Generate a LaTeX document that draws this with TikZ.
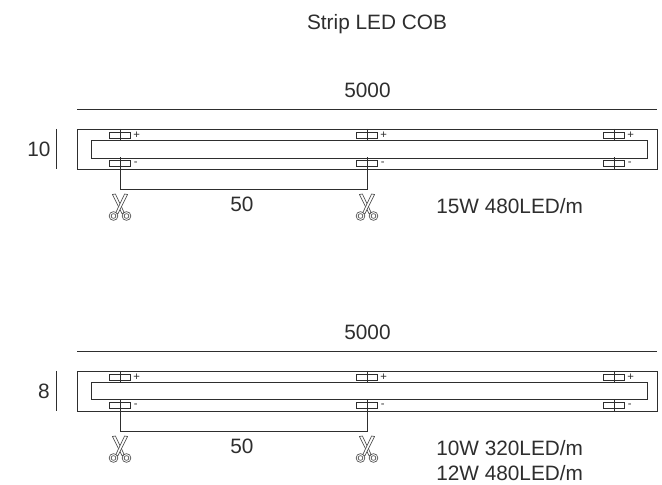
\documentclass[tikz,border=0pt]{standalone}
\usepackage{fontspec}
\setmainfont{Liberation Sans}
\definecolor{ink}{gray}{0.18}
\tikzset{
  x=0.75pt,y=-0.75pt,
  txt/.style={font=\fontsize{15.6}{18}\selectfont,text=ink,inner sep=0pt,anchor=center},
  sgn/.style={font=\fontsize{8.5}{9}\selectfont,text=ink,inner sep=0pt,anchor=west},
  ln/.style={draw=ink,line width=0.55pt},
  bl/.style={draw=ink!85,line width=0.5pt,line join=round},
  clip pad/.pic={
    \draw[ln,fill=white] (-11,-3) rectangle (10,3);
    \draw[ln] (0,-6) -- (0,6);
  },
  snip/.pic={
    \draw[bl] (-6.5,22) circle[radius=4.4] (-6.5,22) circle[radius=2.4];
    \draw[bl] (6.5,22) circle[radius=4.4] (6.5,22) circle[radius=2.4];
    \draw[bl] (-7.6,0.5) -- (-4.6,0) -- (4.2,18.6) -- (2.2,20)  -- cycle;
    \draw[bl,fill=white] (7.6,0.5) -- (4.6,0) -- (-4.2,18.6) -- (-2.2,20) -- cycle;
  }
}
\begin{document}
\begin{tikzpicture}
\useasboundingbox (0,0) rectangle (662,485);
\fill[white] (0,0) rectangle (662,485);
\node[txt] (title) at (377,24.5) {Strip LED COB};

% upper strip
\coordinate (tl) at (77,109); \coordinate (tr) at (657,109);
\draw[ln] (tl) -- (tr);
\node[txt] (w1) at (367.5,90) {5000};
\draw[ln] (77,129) rectangle (657,169);
\draw[ln] (91,140) rectangle (647,158);
\coordinate (b1a) at (56,129); \coordinate (b1b) at (56,169);
\draw[ln] (b1a) -- (b1b);
\node[txt] (h1) at (39,149) {10};
\foreach \x in {120,367,614}{
  \pic at (\x,135) {clip pad};
  \pic at (\x,163.5) {clip pad};
  \node[sgn] at (\x+13,135) {+};
  \node[sgn] at (\x+13.5,164) {-};
}
\coordinate (d1a) at (120,189); \coordinate (d1b) at (367,189);
\draw[ln] (120,166) -- (d1a) -- (d1b) -- (367,166);
\pic at (120,194) {snip};
\pic at (367,194) {snip};
\node[txt] (s1) at (242,204) {50};
\node[txt,anchor=west] (p1) at (436,206) {15W 480LED/m};

% lower strip
\coordinate (ll) at (77,351); \coordinate (lr) at (657,351);
\draw[ln] (ll) -- (lr);
\node[txt] (w2) at (367.5,332) {5000};
\draw[ln] (77,371) rectangle (657,411);
\draw[ln] (91,382) rectangle (647,399);
\coordinate (b2a) at (56,371); \coordinate (b2b) at (56,411);
\draw[ln] (b2a) -- (b2b);
\node[txt] (h2) at (44,391) {8};
\foreach \x in {120,367,614}{
  \pic at (\x,377) {clip pad};
  \pic at (\x,405.5) {clip pad};
  \node[sgn] at (\x+13,377) {+};
  \node[sgn] at (\x+13.5,406) {-};
}
\coordinate (d2a) at (120,431); \coordinate (d2b) at (367,431);
\draw[ln] (120,408) -- (d2a) -- (d2b) -- (367,408);
\pic at (120,436) {snip};
\pic at (367,436) {snip};
\node[txt] (s2) at (242,446) {50};
\node[txt,anchor=west] (p2) at (436,448) {10W 320LED/m};
\node[txt,anchor=west] (p3) at (436,473) {12W 480LED/m};
\end{tikzpicture}
\end{document}
